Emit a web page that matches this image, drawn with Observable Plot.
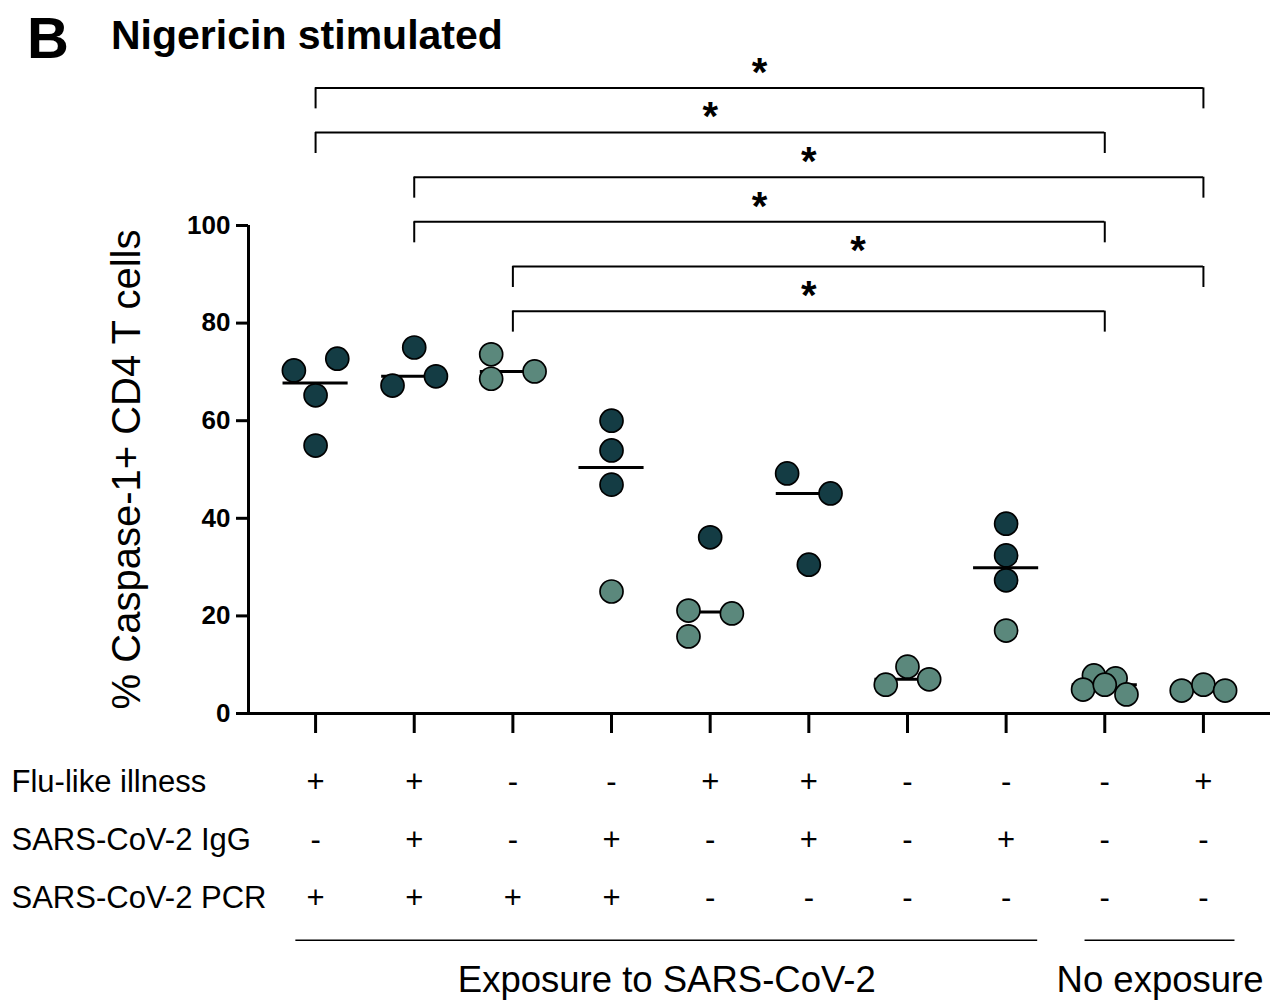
<!DOCTYPE html>
<html><head><meta charset="utf-8">
<script src="https://cdn.jsdelivr.net/npm/d3@7"></script>
<script src="https://cdn.jsdelivr.net/npm/@observablehq/plot@0.6"></script>
<style>
body{margin:0;background:#fff;font-family:"Liberation Sans",Arial,sans-serif;}
#wrap{position:relative;width:1275px;height:1000px;overflow:hidden;background:#fff;}
#title{position:absolute;left:0;top:0;width:1275px;height:60px;line-height:1;z-index:2;pointer-events:none;}
#title .letter{position:absolute;left:27px;top:9px;font-size:58px;font-weight:bold;}
#title .name{position:absolute;left:111px;top:15px;font-size:41px;font-weight:bold;}
#main{position:absolute;left:0;top:0;}
#table{position:absolute;left:0;top:745px;}
</style>
</head><body>
<div id="wrap">
  <div id="title"><span class="letter">B</span><span class="name">Nigericin stimulated</span></div>
  <div id="main"></div>
  <div id="table"></div>
</div>
<script>
// ---- data ----
const groupIds = [1, 2, 3, 4, 5, 6, 7, 8, 9, 10];
const values = [
  [70.3, 72.7, 65.2, 54.9],
  [75.0, 67.2, 69.1],
  [73.6, 68.6, 70.1],
  [60.0, 53.9, 46.9, 25.0],
  [36.1, 21.1, 20.5, 15.8],
  [49.2, 45.1, 30.5],
  [5.9, 9.6, 7.0],
  [38.9, 32.4, 27.3, 17.0],
  [7.8, 7.2, 4.9, 5.9, 3.9],
  [4.7, 5.9, 4.7]
];
// within-group arrangement slot (-1 left, 0 centre, 1 right)
const slots = [
  [-1, 1, 0, 0],
  [0, -1, 1],
  [-1, -1, 1],
  [0, 0, 0, 0],
  [0, -1, 1, -1],
  [-1, 1, 0],
  [-1, 0, 1],
  [0, 0, 0, 0],
  [-0.5, 0.5, -1, 0, 1],
  [-1, 0, 1]
];
const shades = [
  ["dark", "dark", "dark", "dark"],
  ["dark", "dark", "dark"],
  ["light", "light", "light"],
  ["dark", "dark", "dark", "light"],
  ["dark", "light", "light", "light"],
  ["dark", "dark", "dark"],
  ["light", "light", "light"],
  ["dark", "dark", "dark", "light"],
  ["light", "light", "light", "light", "light"],
  ["light", "light", "light"]
];
const bracketFrom = [1, 1, 2, 2, 3, 3];
const bracketTo = [10, 9, 10, 9, 10, 9];
const bracketLabel = ["*", "*", "*", "*", "*", "*"];
const yTicks = [0, 20, 40, 60, 80, 100];
const yLabel = "% Caspase-1+ CD4 T cells";
const rowLabels = ["Flu-like illness", "SARS-CoV-2 IgG", "SARS-CoV-2 PCR"];
const flu = ["+", "+", "-", "-", "+", "+", "-", "-", "-", "+"];
const igg = ["-", "+", "-", "+", "-", "+", "-", "+", "-", "-"];
const pcr = ["+", "+", "+", "+", "-", "-", "-", "-", "-", "-"];
const spanNames = ["Exposure to SARS-CoV-2", "No exposure"];
const spanFirst = [1, 9];
const spanLast = [8, 10];

// ---- derived tables ----
const points = groupIds.flatMap((g, i) => values[i].map((v, j) => ({g, v, slot: slots[i][j], shade: shades[i][j]})));
const medians = groupIds.map((g, i) => ({g, m: d3.median(values[i])}));
const bracketTop = 128.2, bracketStep = 9.15, bracketDrop = 4.3;
const brackets = bracketFrom.map((a, i) => ({a, b: bracketTo[i], level: bracketTop - i * bracketStep, label: bracketLabel[i]}));
const bracketEnds = brackets.flatMap(d => [{x: d.a, level: d.level}, {x: d.b, level: d.level}]);
const signRows = [flu, igg, pcr];
const signs = signRows.flatMap((row, r) => row.map((s, i) => ({g: groupIds[i], row: r, s})));
const spans = spanNames.map((name, i) => ({name, x1: spanFirst[i] - 0.2, x2: spanLast[i] + 0.32}));

const font = "'Liberation Sans', Arial, sans-serif";
const xPad = 0.68;
const xDomain = [groupIds[0] - xPad, groupIds[groupIds.length - 1] + xPad];

const main = Plot.plot({
  width: 1275, height: 745,
  marginTop: 225, marginBottom: 32, marginLeft: 248, marginRight: 5,
  style: {fontFamily: font, background: "transparent", color: "black"},
  x: {type: "linear", domain: xDomain},
  y: {domain: [0, 100]},
  color: {domain: ["dark", "light"], range: ["#143c44", "#5b887c"]},
  marks: [
    Plot.ruleY(brackets, {x1: "a", x2: "b", y: "level", stroke: "black", strokeWidth: 2}),
    Plot.ruleX(bracketEnds, {x: "x", y1: "level", y2: d => d.level - bracketDrop, stroke: "black", strokeWidth: 2}),
    Plot.text(brackets, {x: d => (d.a + d.b) / 2, y: "level", text: "label", fontSize: 40, fontWeight: "bold", dy: -15}),
    Plot.axisY({ticks: yTicks, tickSize: 12, tickPadding: 6, fontSize: 26, fontWeight: "bold", strokeWidth: 3, label: null}),
    Plot.axisX({ticks: groupIds, tickSize: 20, tickFormat: () => "", strokeWidth: 3, label: null}),
    Plot.ruleX([xDomain[0]], {y1: 0, y2: 100, stroke: "black", strokeWidth: 3}),
    Plot.ruleY([0], {stroke: "black", strokeWidth: 3}),
    Plot.ruleY(medians, {x1: d => d.g - 0.33, x2: d => d.g + 0.33, y: "m", stroke: "black", strokeWidth: 3}),
    Plot.dot(points, {x: d => d.g + d.slot * 0.22, y: "v", r: 11.5, fill: "shade", stroke: "black", strokeWidth: 1.7}),
    Plot.text([yLabel], {frameAnchor: "left", textAnchor: "middle", dx: -121, rotate: -90, fontSize: 40, text: d => d})
  ]
});
document.getElementById("main").appendChild(main);

const table = Plot.plot({
  width: 1275, height: 255,
  marginTop: 0, marginBottom: 0, marginLeft: 248, marginRight: 5,
  style: {fontFamily: font, background: "transparent", color: "black"},
  x: {type: "linear", domain: xDomain, axis: null},
  y: {type: "linear", domain: [0, 2], range: [37, 153], axis: null},
  marks: [
    Plot.text(rowLabels, {y: (d, i) => i, frameAnchor: "left", dx: 11 - 248, textAnchor: "start", fontSize: 31, text: d => d}),
    Plot.text(signs, {x: "g", y: "row", text: "s", fontSize: 31}),
    Plot.ruleY(spans, {x1: "x1", x2: "x2", y: () => 2.72, stroke: "black", strokeWidth: 1.5}),
    Plot.text(spans, {x: d => (d.x1 + d.x2) / 2, y: () => 3.41, text: "name", fontSize: 36.5})
  ]
});
document.getElementById("table").appendChild(table);
</script>
</body></html>
